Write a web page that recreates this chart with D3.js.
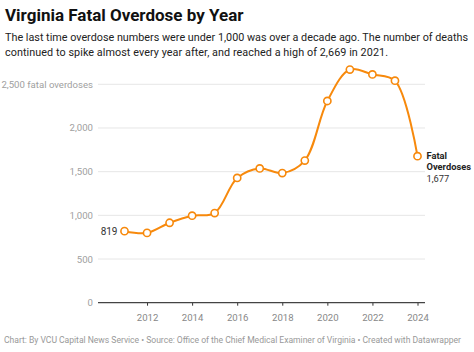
<!DOCTYPE html>
<html>
<head>
<meta charset="utf-8">
<script src="https://cdn.jsdelivr.net/npm/d3@7"></script>
<style>
  body { margin: 0; background: #fff; font-family: Roboto, "Noto Sans", sans-serif; }
  svg text { font-family: Roboto, "Noto Sans", sans-serif; }
</style>
</head>
<body>
<div id="container"></div>
<script>
/* DATA */
const years = [2011, 2012, 2013, 2014, 2015, 2016, 2017, 2018, 2019, 2020, 2021, 2022, 2023, 2024];
const deaths = [819, 799, 915, 996, 1026, 1428, 1537, 1484, 1627, 2309, 2669, 2613, 2541, 1677];
const yTicks = [0, 500, 1000, 1500, 2000, 2500];
const xTicks = [2012, 2014, 2016, 2018, 2020, 2022, 2024];

const width = 474, height = 352;
const margin = { top: 84.3, bottom: 49.3, left: 98, right: 49 };
const orange = "#f7890c";

const data = years.map((y, i) => ({ year: y, value: deaths[i] }));

const svg = d3.select("#container")
  .append("svg")
  .attr("width", width)
  .attr("height", height);

// TITLE + SUBTITLE
svg.append("text")
  .attr("x", 5).attr("y", 21)
  .attr("font-size", 17).attr("font-weight", "bold").attr("fill", "#111")
  .text("Virginia Fatal Overdose by Year");

const sub = ["The last time overdose numbers were under 1,000 was over a decade ago. The number of deaths",
             "continued to spike almost every year after, and reached a high of 2,669 in 2021."];
svg.selectAll(".sub").data(sub).join("text")
  .attr("class", "sub")
  .attr("x", 5).attr("y", (d, i) => 41 + i * 15)
  .attr("font-size", 10.8).attr("fill", "#222")
  .attr("textLength", (d, i) => i === 0 ? 463 : 383)
  .text(d => d);

// SCALES
const xScale = d3.scaleLinear()
  .domain([2011, 2024])
  .range([124.5, 417.5]);

const yScale = d3.scaleLinear()
  .domain([0, 2500])
  .range([height - margin.bottom, margin.top]);

// GRIDLINES
svg.append("g")
  .selectAll("line")
  .data(yTicks.filter(d => d > 0))
  .join("line")
  .attr("x1", margin.left).attr("x2", width - margin.right)
  .attr("y1", d => yScale(d)).attr("y2", d => yScale(d))
  .attr("stroke", "#e6e6e6").attr("stroke-width", 1);

// Y LABELS
svg.append("g")
  .selectAll("text")
  .data(yTicks)
  .join("text")
  .attr("x", 93)
  .attr("y", d => yScale(d) + 3.5)
  .attr("text-anchor", "end")
  .attr("font-size", 9.6).attr("fill", "#a0a0a0")
  .text(d => d === 2500 ? "2,500 fatal overdoses" : d3.format(",")(d));

// X AXIS
const xAxis = d3.axisBottom(xScale)
  .tickValues(xTicks)
  .tickFormat(d3.format("d"))
  .tickSize(3)
  .tickPadding(8);
const gx = svg.append("g")
  .attr("transform", `translate(0,${yScale(0)})`)
  .call(xAxis);
gx.select(".domain").remove();
gx.selectAll(".tick line").attr("stroke", "#333");
gx.selectAll(".tick text").attr("font-size", 9.6).attr("fill", "#888").attr("font-family", "Roboto, sans-serif");
svg.append("line")
  .attr("x1", margin.left).attr("x2", width - margin.right)
  .attr("y1", yScale(0)).attr("y2", yScale(0))
  .attr("stroke", "#444").attr("stroke-width", 1.3);

// LINE
const line = d3.line()
  .x(d => xScale(d.year))
  .y(d => yScale(d.value))
  .curve(d3.curveCatmullRom);

svg.append("path")
  .datum(data)
  .attr("d", line)
  .attr("fill", "none")
  .attr("stroke", orange)
  .attr("stroke-width", 2);

svg.append("g")
  .selectAll("circle")
  .data(data)
  .join("circle")
  .attr("cx", d => xScale(d.year))
  .attr("cy", d => yScale(d.value))
  .attr("r", 3.6)
  .attr("fill", "#fff")
  .attr("stroke", orange)
  .attr("stroke-width", 1.6);

// LABELS
const first = data[0], last = data[data.length - 1];
svg.append("text")
  .attr("x", xScale(first.year) - 7)
  .attr("y", yScale(first.value) + 3.5)
  .attr("text-anchor", "end")
  .attr("font-size", 10).attr("fill", "#333")
  .text(d3.format("")(first.value));

const lx = xScale(last.year) + 9, ly = yScale(last.value);
svg.append("text")
  .attr("x", lx).attr("y", ly + 3)
  .attr("font-size", 9.3).attr("font-weight", "bold").attr("fill", "#222")
  .text("Fatal");
svg.append("text")
  .attr("x", lx).attr("y", ly + 14)
  .attr("font-size", 9.3).attr("font-weight", "bold").attr("fill", "#222")
  .text("Overdoses");
svg.append("text")
  .attr("x", lx).attr("y", ly + 25.5)
  .attr("font-size", 9.3).attr("fill", "#333")
  .text(d3.format(",")(last.value));

// FOOTER
svg.append("text")
  .attr("x", 4).attr("y", 343)
  .attr("font-size", 8.6).attr("fill", "#999")
  .attr("textLength", 457)
  .text("Chart: By VCU Capital News Service \u2022 Source: Office of the Chief Medical Examiner of Virginia \u2022 Created with Datawrapper");
</script>
</body>
</html>
